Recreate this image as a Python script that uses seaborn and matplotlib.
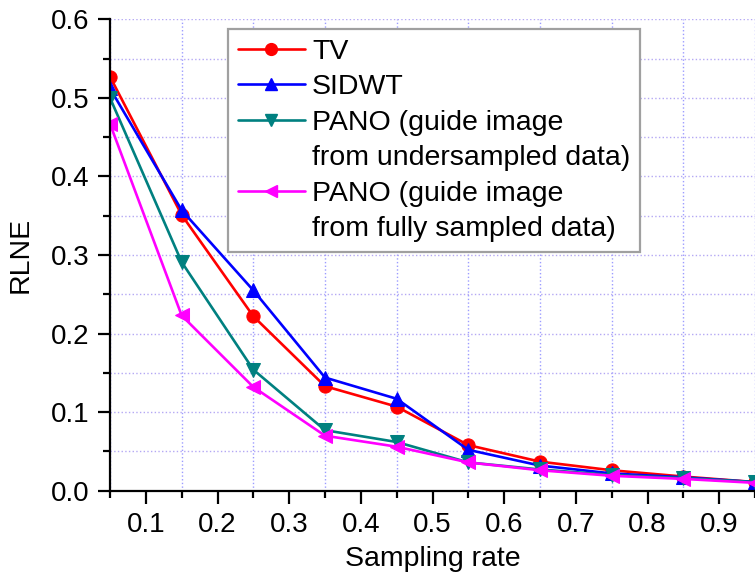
import numpy as np
import pandas as pd
import seaborn as sns
import matplotlib.pyplot as plt
from matplotlib.lines import Line2D
from matplotlib.ticker import MultipleLocator

# data
sampling_rate = [0.05, 0.15, 0.25, 0.35, 0.45, 0.55, 0.65, 0.75, 0.85, 0.95]
rlne_tv = [0.527, 0.351, 0.222, 0.133, 0.107, 0.058, 0.037, 0.026, 0.018, 0.011]
rlne_sidwt = [0.512, 0.357, 0.255, 0.144, 0.117, 0.052, 0.032, 0.022, 0.017, 0.011]
rlne_pano_under = [0.500, 0.291, 0.154, 0.077, 0.062, 0.036, 0.027, 0.020, 0.016, 0.011]
rlne_pano_full = [0.467, 0.223, 0.132, 0.070, 0.056, 0.036, 0.026, 0.019, 0.015, 0.010]

methods = ["TV", "SIDWT", "PANO_under", "PANO_full"]
legend_labels = ["TV", "SIDWT",
                 "PANO (guide image", "from undersampled data)",
                 "PANO (guide image", "from fully sampled data)"]

df = pd.DataFrame({
    "rate": sampling_rate * 4,
    "rlne": rlne_tv + rlne_sidwt + rlne_pano_under + rlne_pano_full,
    "method": np.repeat(methods, len(sampling_rate)),
})

colors = {"TV": "#ff0000", "SIDWT": "#0000ff",
          "PANO_under": "#008080", "PANO_full": "#ff00ff"}
markers = {"TV": "o", "SIDWT": "^", "PANO_under": "v", "PANO_full": "<"}

sns.set_style("ticks")
plt.rcParams["font.family"] = ["Liberation Sans", "DejaVu Sans"]
plt.rcParams.update({"text.color": "black", "axes.labelcolor": "black",
                     "xtick.color": "black", "ytick.color": "black"})

fig = plt.figure(figsize=(7.55, 5.72), dpi=100)
ax = fig.add_axes([110 / 755, 1 - 490.7 / 572, 645 / 755, 471.4 / 572])

sns.lineplot(data=df, x="rate", y="rlne", hue="method", style="method",
             hue_order=methods, style_order=methods, palette=colors,
             markers=markers, dashes=False, markersize=9.5, linewidth=1.9,
             legend=False, ax=ax)
for line in ax.lines:
    line.set_markeredgecolor(line.get_color())

ax.set_xlim(0.05, 0.95)
ax.set_ylim(0.0, 0.6)
ax.xaxis.set_minor_locator(MultipleLocator(0.05))
ax.yaxis.set_major_locator(MultipleLocator(0.1))
ax.yaxis.set_minor_locator(MultipleLocator(0.05))
ax.set_xticks([0.1, 0.2, 0.3, 0.4, 0.5, 0.6, 0.7, 0.8, 0.9])
ax.set_xticklabels([f"{v:.1f}" for v in ax.get_xticks()])
ax.set_yticklabels([f"{v:.1f}" for v in ax.get_yticks()])

ax.tick_params(which="major", direction="out", length=9, width=1.6,
               labelsize=20, color="black", labelcolor="black", pad=6)
ax.tick_params(which="minor", direction="out", length=5, width=1.6,
               color="black")

# grid: horizontal at every 0.05, vertical only at the sample positions
ax.grid(False)
ax.yaxis.grid(True, which="both", linestyle=":", linewidth=1.0,
              color="#b4a8f4")
ax.xaxis.grid(True, which="minor", linestyle=":", linewidth=1.0,
              color="#9c9cff")

sns.despine(ax=ax, top=True, right=True)
for side in ["left", "bottom"]:
    ax.spines[side].set_linewidth(1.6)
    ax.spines[side].set_color("black")

ax.set_xlabel("Sampling rate", fontsize=20.5, labelpad=6)
ax.set_ylabel("RLNE", fontsize=20.5)
ax.yaxis.set_label_coords(-0.119, 0.5)

# legend: continuation lines get an empty handle so markers sit on the first line
handles = []
for m in methods:
    handles.append(Line2D([], [], color=colors[m], marker=markers[m],
                          markersize=8.5, linewidth=1.9,
                          markeredgecolor=colors[m]))
blank = Line2D([], [], linestyle="none", marker=None)
legend_handles = [handles[0], handles[1], handles[2], blank, handles[3], blank]
leg = ax.legend(legend_handles, legend_labels, loc="upper left",
                bbox_to_anchor=(228 / 755, 1 - 29 / 572),
                bbox_transform=fig.transFigure, fontsize=20.5,
                frameon=True, fancybox=False, framealpha=1,
                edgecolor="#a0a0a0", handlelength=2.35, handletextpad=0.25,
                labelspacing=0.33, borderpad=0.35, borderaxespad=0)
leg.get_frame().set_linewidth(1.6)

plt.savefig("out.png", dpi=100)
